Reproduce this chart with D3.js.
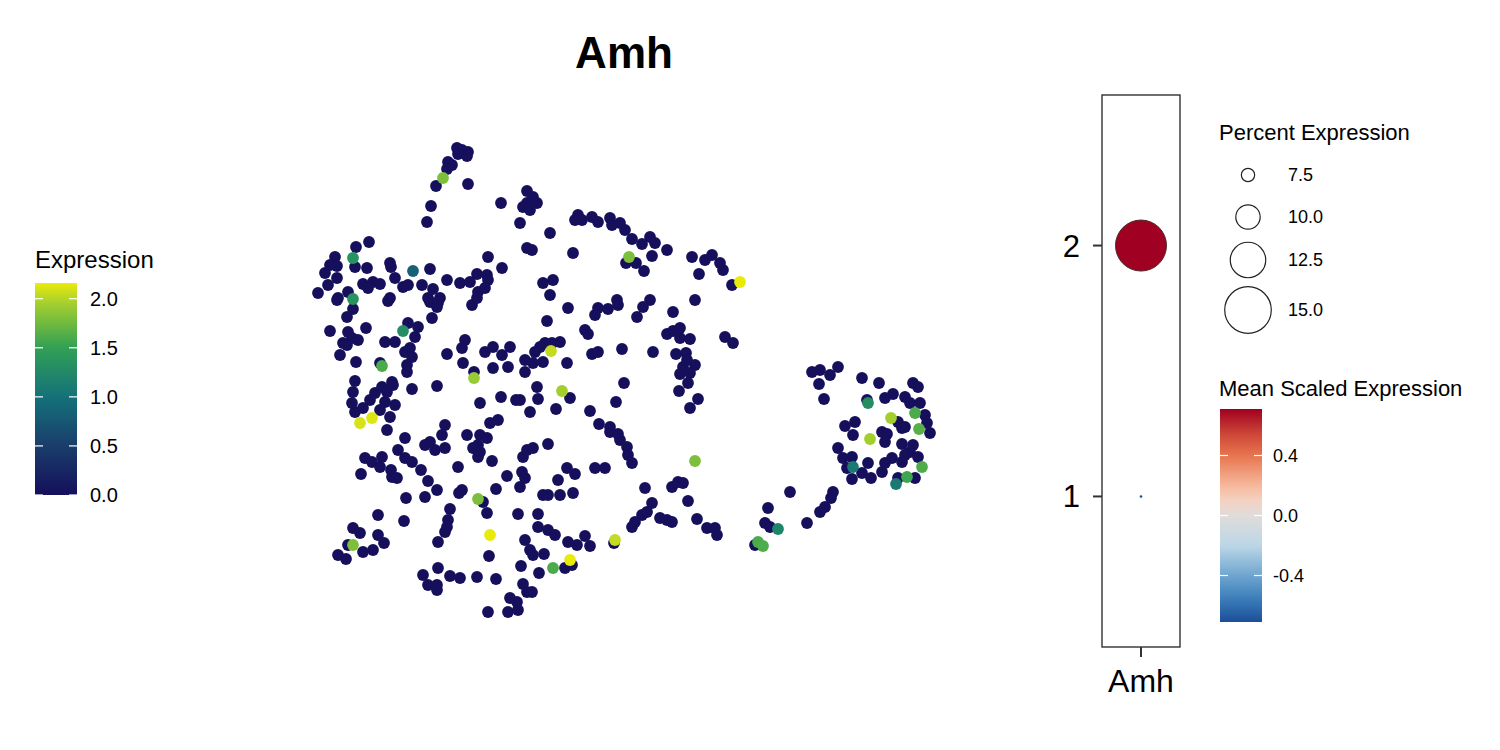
<!DOCTYPE html>
<html><head><meta charset="utf-8">
<script src="https://cdn.jsdelivr.net/npm/d3@7"></script>
<style>body{margin:0;background:#fff}text{font-family:"Liberation Sans",Arial,sans-serif}</style>
</head><body><svg id="c" width="1500" height="750"></svg>
<script>
const geneName = "Amh";
// UMAP coordinates of cells with zero expression [UMAP_1, UMAP_2]
const cellsNeg = [
[-17.3,23.2],[-16.8,23.0],[-16.2,22.8],[-16.3,22.4],[-17.2,22.6],[-18.2,21.8],[-17.8,21.5],[-18.3,21.1],[-19.4,19.4],[-16.2,19.6],
[-19.9,17.4],[-20.3,15.8],[-12.9,17.7],[-10.3,18.9],[-9.7,18.3],[-9.3,17.7],[-10.3,17.7],[-10.0,17.0],[-10.7,17.3],[-11.0,15.7],
[-8.0,14.7],[-5.2,16.5],[-5.5,16.0],[-4.8,16.0],[-3.8,16.3],[-3.2,15.8],[-2.0,16.2],[-1.8,15.5],[-1.0,15.7],[-0.5,15.0],
[0.2,14.1],[1.2,13.6],[2.0,14.3],[2.5,13.7],[3.7,13.0],[2.2,12.4],[-5.7,12.7],[-10.3,13.2],[-9.8,13.0],[-0.4,11.7],
[0.6,11.7],[1.4,10.9],[6.2,12.3],[7.5,12.0],[8.2,12.5],[9.0,11.7],[9.3,11.0],[6.9,10.6],[10.2,9.5],[-8.7,9.7],
[-7.7,10.0],[-8.0,8.5],[-1.3,8.0],[2.0,8.0],[6.5,8.0],
[-26.1,13.8],[-27.4,13.3],[-29.5,12.3],[-30.0,11.5],[-30.5,10.7],[-29.3,11.4],[-27.5,11.3],[-26.3,11.2],[-24.0,11.7],[-23.9,11.3],
[-20.0,11.1],[-14.2,12.3],[-12.8,11.2],[-15.3,10.6],[-14.3,10.5],[-14.2,10.0],[-18.3,10.0],[-17.0,9.7],[-16.0,9.8],[-19.7,9.1],
[-20.8,9.5],[-22.7,9.3],[-22.2,9.5],[-23.5,10.2],[-26.7,9.6],[-25.7,9.8],[-25.0,9.6],[-26.2,9.2],[-29.3,10.2],[-30.2,9.5],
[-31.2,8.7],[-29.2,8.2],[-28.2,8.8],[-24.0,8.2],[-20.2,8.2],[-19.0,8.2],[-15.2,8.8],[-14.5,9.2],
[-29.3,8.0],[-27.7,7.1],[-28.3,6.3],[-24.2,7.9],[-20.0,7.8],[-19.2,7.7],[-19.3,7.3],[-19.8,6.2],[-15.8,7.5],[-15.3,8.2],
[-30.0,4.9],[-28.2,4.8],[-28.7,3.7],[-27.8,4.2],[-27.2,4.0],[-28.3,3.5],[-26.4,5.2],[-29.0,2.5],[-27.4,1.8],[-24.5,3.8],
[-23.5,3.8],[-22.2,5.7],[-21.2,5.3],[-21.5,4.3],[-22.0,3.2],[-22.5,2.8],[-21.8,2.3],[-22.3,1.5],[-22.3,0.8],[-25.0,1.7],
[-18.3,2.6],[-16.7,1.7],[-16.5,4.0],[-16.8,3.2],[-14.5,2.8],[-13.7,3.3],[-12.8,2.5],[-12.0,3.3],[-13.7,1.2],[-12.2,1.3],
[-15.6,0.8],[-19.3,-0.6],[-21.8,-0.9],[-27.5,-0.1],[-27.7,-1.2],[-25.5,-1.3],[-24.8,-0.7],[-24.3,-1.2],[-23.8,-0.2],[-23.7,-0.5],
[-26.0,-2.0],[-24.5,-2.2],[-23.5,-2.5],[-27.8,-2.3],[-27.5,-3.2],[-26.7,-2.8],[-25.0,-3.0],[-24.0,-3.7],[-24.3,-5.0],[-22.5,-5.8],
[-18.5,-4.5],[-18.8,-5.5],[-20.5,-6.5],[-20.0,-6.2],[-19.5,-7.0],[-18.5,-6.8],[-16.3,-5.5],[-15.0,-5.5],[-14.3,-5.8],[-15.2,-6.5],
[-15.7,-6.8],[-15.0,-7.2],[-14.0,-4.3],[-13.2,-4.0],[-12.9,-1.7],[-11.4,-2.0],[-15.0,-2.3],[-10.3,-7.0],[-23.2,-7.0],[-22.5,-7.8],
[-24.8,-7.7],[-26.5,-7.8],
[-6.2,7.2],[-3.2,7.2],[-3.5,6.5],[-2.2,7.1],[-1.2,7.5],[1.3,7.3],[0.7,6.3],[4.3,6.8],[-8.3,5.9],[-4.5,5.0],
[-4.2,4.6],[3.7,4.6],[4.3,4.9],[5.0,5.2],[5.0,4.2],[6.0,4.1],[9.5,4.3],[10.3,3.7],[-7.0,3.8],[-7.8,3.7],
[-8.5,3.7],[-9.0,3.3],[-9.5,2.8],[-10.5,2.0],[-9.7,1.7],[-8.7,1.8],[-10.5,0.8],[-6.3,1.7],[-3.8,2.6],[-3.2,2.8],
[-0.8,3.1],[2.3,2.8],[4.6,2.6],[5.6,2.7],[5.7,2.0],[6.5,1.5],[5.3,1.3],[6.0,0.7],[5.0,0.6],[5.8,-0.3],
[4.9,-1.1],[6.8,-1.9],[6.0,-2.8],[-9.3,-0.7],[-0.6,-0.3],[-6.0,-1.8],[-9.2,-1.9],[-11.0,-2.0],[-7.4,-2.9],[-10.0,-3.2],
[-1.4,-2.2],[-4.0,-3.1],[-3.1,-4.4],[-2.0,-4.7],[-2.0,-5.2],[-1.2,-5.4],[-1.0,-6.0],[-0.3,-6.7],[-0.2,-7.5],[-8.2,-6.4],
[-9.7,-6.8],
[-25.8,-8.2],[-25.0,-8.7],[-21.8,-8.2],[-26.9,-9.4],[-23.9,-9.0],[-23.8,-9.7],[-23.3,-9.8],[-20.9,-9.0],[-20.2,-10.1],[-19.3,-11.0],
[-17.2,-8.7],[-15.2,-7.7],[-13.8,-8.1],[-12.3,-9.6],[-10.8,-9.2],[-11.0,-10.7],[-22.4,-11.8],[-20.5,-11.7],[-16.8,-11.0],[-17.1,-11.3],
[-14.7,-12.2],[-13.4,-10.9],[-18.0,-12.9],[-14.3,-13.3],[-11.2,-13.4],[-18.2,-14.0],[-18.3,-14.7],[-18.5,-15.2],[-25.2,-13.5],[-22.6,-14.1],
[-19.2,-16.2],[-14.1,-17.6],[-27.7,-14.8],[-27.0,-15.3],[-25.2,-15.5],[-24.6,-16.3],[-28.2,-16.5],[-25.7,-17.0],[-26.7,-17.2],[-29.2,-17.5],
[-28.4,-17.9],[-19.2,-18.8],[-20.7,-19.5],[-20.2,-20.5],[-19.3,-21.0],[-19.3,-20.5],[-18.0,-19.6],[-17.0,-19.8],[-15.3,-19.7],[-13.4,-19.9],
[-10.9,-18.6],[-10.7,-20.4],[-12.0,-21.8],[-11.3,-22.2],[-12.2,-23.2],[-11.2,-23.0],[-14.2,-23.2],
[-10.7,-7.7],[0.2,-8.3],[-6.3,-8.8],[-5.5,-9.4],[-3.5,-8.8],[-2.5,-8.8],[-10.5,-9.8],[-7.2,-10.0],[-8.7,-11.5],[-8.2,-11.5],
[-7.0,-11.5],[-5.7,-11.3],[1.5,-10.8],[4.2,-10.7],[4.8,-10.2],[5.3,-10.3],[2.2,-12.3],[5.8,-12.1],[1.2,-13.5],[1.7,-13.2],
[0.5,-14.2],[0.2,-14.7],[3.0,-13.8],[3.7,-14.0],[4.2,-14.2],[6.7,-13.9],[7.7,-14.8],[8.5,-14.8],[8.7,-15.5],[-9.2,-13.4],
[-9.2,-14.7],[-8.2,-15.0],[-7.5,-15.5],[-10.5,-16.0],[-10.0,-17.0],[-9.7,-17.5],[-8.6,-17.4],[-6.2,-16.2],[-5.3,-16.5],[-4.5,-15.6],
[-4.0,-16.6],[-1.6,-16.3],[-9.1,-19.3],[-5.8,-18.5],[-6.5,-18.8],[-9.8,-21.2],[-10.3,-21.2],
[18.2,0.8],[19.0,1.0],[20.0,0.5],[20.8,1.3],[18.9,-0.4],[19.4,-1.9],[23.2,0.2],[24.9,-0.3],[28.3,-0.3],[28.8,-0.7],
[26.3,-1.4],[25.5,-1.8],[27.5,-1.7],[28.0,-2.3],[29.0,-2.3],[23.7,-2.0],[26.8,-4.2],[27.5,-4.7],[27.2,-4.8],[29.5,-3.5],
[29.7,-4.3],[30.0,-5.3],[21.5,-4.6],[22.5,-4.2],[22.3,-5.5],[25.2,-5.2],[25.7,-5.4],[25.5,-6.2],[27.2,-6.4],[28.3,-6.5],
[28.0,-7.2],[20.8,-6.8],[21.3,-7.8],[22.2,-7.7],[21.7,-8.8],[23.8,-8.3],[23.2,-9.3],[24.1,-9.8],[22.2,-9.9],[25.5,-8.3],
[25.2,-9.2],[26.2,-7.8],[27.2,-8.2],[27.5,-7.5],[28.8,-7.7],[28.5,-9.8],[26.8,-9.8],[16.0,-11.2],[20.3,-11.2],[20.1,-11.8],
[19.5,-12.7],[19.0,-13.2],[17.7,-14.3],[13.8,-12.8],[13.5,-14.3],[14.0,-14.7],[12.5,-16.5]
];
// cells with expression > 0: [UMAP_1, UMAP_2, expression]
const cellsPos = [
[-18.7,20.2,1.8],[11.0,9.8,2.15],[-0.1,12.3,1.8],[-27.7,12.2,1.35],[-21.7,10.9,0.85],[-27.7,8.1,1.35],[-22.7,4.9,1.3],[-24.8,1.4,1.6],
[-15.6,0.2,1.9],[-7.9,2.9,2.05],[-6.8,-1.1,1.95],[-27.0,-4.3,2.1],[-25.8,-3.8,2.12],[6.5,-8.1,1.8],[-15.2,-11.9,1.8],[-27.7,-16.5,1.8],
[-14.0,-15.5,2.15],[-7.7,-18.8,1.6],[-6.0,-18.0,2.15],[-1.5,-16.0,2.05],[23.8,-2.3,1.3],[28.5,-3.3,1.6],[26.1,-3.8,1.95],[28.9,-4.9,1.65],
[24.0,-5.9,1.95],[22.3,-8.7,1.1],[29.2,-8.7,1.62],[27.7,-9.7,1.55],[26.6,-10.4,1.1],[14.8,-14.9,1.2],[12.8,-16.2,1.6],[13.3,-16.6,1.62]
];
const exprTicks = [0, 0.5, 1, 1.5, 2];
const exprMax = 2.16;
const exprStops = [0, 0.5, 1, 1.5, 2, 2.16];
const exprColors = ["#150f5c", "#1a3d6b", "#14717a", "#31a055", "#b0d42a", "#ecec0a"];

const clusters = ["1", "2"];
const pctExpressed = [4.5, 16.0];
const avgScaled = [-0.71, 0.71];
const pctTicks = [7.5, 10, 12.5, 15];
const scaledTicks = [-0.4, 0, 0.4];
const scaledStops = [-0.71, -0.55, -0.4, -0.2, 0, 0.1, 0.2, 0.4, 0.55, 0.71];
const scaledColors = ["#1b4e99", "#3d7fbb", "#6ea6cf", "#bcd7e7", "#e0dcd9", "#f4d2c2", "#f6b89b", "#e7754f", "#cc4436", "#a00021"];

const svg = d3.select("#c");

// ---------- title ----------
svg.append("text").attr("x", 624).attr("y", 68).attr("text-anchor", "middle")
  .attr("font-size", 44).attr("font-weight", "bold").text(geneName);

// ---------- UMAP feature plot ----------
const x = d3.scaleLinear().domain([-32, 32]).range([310, 950]);
const y = d3.scaleLinear().domain([-24, 24]).range([620, 140]);
const col = d3.scaleLinear().domain(exprStops).range(exprColors).interpolate(d3.interpolateRgb);
const R = 5.9;
const gPts = svg.append("g");
gPts.selectAll("circle.neg").data(cellsNeg).join("circle").attr("class", "neg")
  .attr("cx", d => x(d[0])).attr("cy", d => y(d[1])).attr("r", R).attr("fill", col(0));
gPts.selectAll("circle.pos").data(cellsPos.slice().sort((a, b) => a[2] - b[2])).join("circle").attr("class", "pos")
  .attr("cx", d => x(d[0])).attr("cy", d => y(d[1])).attr("r", R).attr("fill", d => col(d[2]));

// ---------- expression legend ----------
const defs = svg.append("defs");
const lg1 = defs.append("linearGradient").attr("id", "g1").attr("x1", 0).attr("y1", 1).attr("x2", 0).attr("y2", 0);
d3.range(0, 1.0001, 0.05).forEach(t => lg1.append("stop").attr("offset", t).attr("stop-color", col(t * exprMax)));
svg.append("text").attr("x", 35).attr("y", 268).attr("font-size", 24).text("Expression");
const ly = d3.scaleLinear().domain([0, exprMax]).range([495, 283]);
svg.append("rect").attr("x", 35).attr("y", ly(exprMax)).attr("width", 42).attr("height", ly(0) - ly(exprMax)).attr("fill", "url(#g1)");
exprTicks.forEach(v => {
  [[35, 43], [69, 77]].forEach(([a, b]) => svg.append("line").attr("x1", a).attr("x2", b)
    .attr("y1", ly(v)).attr("y2", ly(v)).attr("stroke", "#fff").attr("stroke-width", 1.2));
  svg.append("text").attr("x", 90).attr("y", ly(v) + 7).attr("font-size", 20).text(v.toFixed(1));
});

// ---------- dot plot ----------
const bx0 = 1102, bx1 = 1180, by0 = 95, by1 = 647;
const yc = d3.scaleLinear().domain([0.4, 2.6]).range([by1, by0]);
const xc = (bx0 + bx1) / 2;
const rScale = d3.scaleLinear().domain([4.5, 16.0]).range([0, 25.5]);
const sMin = avgScaled[0], sMax = avgScaled[1];
const rdbu = d3.scaleLinear().domain(scaledStops).range(scaledColors).interpolate(d3.interpolateRgb).clamp(true);
svg.append("rect").attr("x", bx0).attr("y", by0).attr("width", bx1 - bx0).attr("height", by1 - by0)
  .attr("fill", "none").attr("stroke", "#222").attr("stroke-width", 1.3);
clusters.forEach((c, i) => {
  const cy = yc(+c);
  svg.append("line").attr("x1", bx0 - 9).attr("x2", bx0).attr("y1", cy).attr("y2", cy).attr("stroke", "#333").attr("stroke-width", 2);
  svg.append("text").attr("x", bx0 - 22).attr("y", cy + 11).attr("text-anchor", "end").attr("font-size", 31).text(c);
  svg.append("circle").attr("cx", xc).attr("cy", cy).attr("r", Math.max(1.3, rScale(pctExpressed[i])))
    .attr("fill", rdbu(avgScaled[i])).attr("stroke", rScale(pctExpressed[i]) > 2 ? "#4a2a2a" : "none").attr("stroke-width", 1);
});
svg.append("line").attr("x1", xc).attr("x2", xc).attr("y1", by1).attr("y2", by1 + 10).attr("stroke", "#333").attr("stroke-width", 2);
svg.append("text").attr("x", xc).attr("y", 692).attr("text-anchor", "middle").attr("font-size", 32).text(geneName);

// size legend
svg.append("text").attr("x", 1219).attr("y", 140).attr("font-size", 22).text("Percent Expression");
const pctY = [175, 217, 260, 310];
pctTicks.forEach((p, i) => {
  svg.append("circle").attr("cx", 1248).attr("cy", pctY[i]).attr("r", rScale(p)).attr("fill", "#fff").attr("stroke", "#222").attr("stroke-width", 1.2);
  svg.append("text").attr("x", 1288).attr("y", pctY[i] + 6).attr("font-size", 18).text(p.toFixed(1));
});

// colour legend
svg.append("text").attr("x", 1219).attr("y", 396).attr("font-size", 22).text("Mean Scaled Expression");
const cy2 = d3.scaleLinear().domain([sMin, sMax]).range([622, 409]);
const lg2 = defs.append("linearGradient").attr("id", "g2").attr("x1", 0).attr("y1", 1).attr("x2", 0).attr("y2", 0);
d3.range(0, 1.0001, 0.025).forEach(t => lg2.append("stop").attr("offset", t).attr("stop-color", rdbu(sMin + t * (sMax - sMin))));
svg.append("rect").attr("x", 1220).attr("y", 409).attr("width", 42).attr("height", 213).attr("fill", "url(#g2)");
scaledTicks.forEach(v => {
  [[1220, 1228], [1254, 1262]].forEach(([a, b]) => svg.append("line").attr("x1", a).attr("x2", b)
    .attr("y1", cy2(v)).attr("y2", cy2(v)).attr("stroke", "#fff").attr("stroke-width", 1.2));
  svg.append("text").attr("x", 1273).attr("y", cy2(v) + 6).attr("font-size", 18).text(v.toFixed(1));
});
</script></body></html>
